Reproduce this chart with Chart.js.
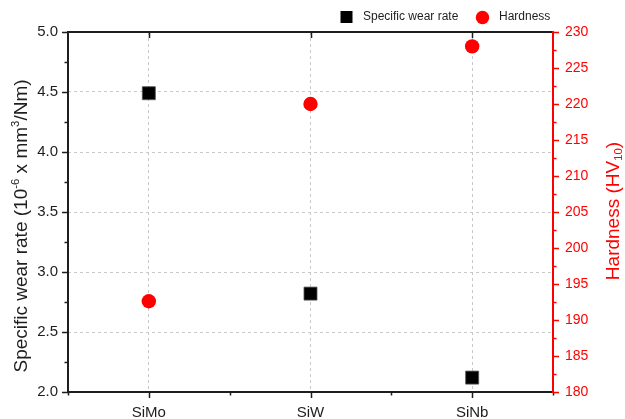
<!DOCTYPE html>
<html><head><meta charset="utf-8">
<script src="https://cdn.jsdelivr.net/npm/chart.js@4/dist/chart.umd.min.js"></script>
<style>html,body{margin:0;padding:0;background:#fff}</style>
</head><body>
<canvas id="c" width="625" height="419"></canvas>
<script>
// ---- data ----
const categories = ['SiMo', 'SiW', 'SiNb'];
const wearRate = [4.49, 2.82, 2.12];       // 10^-6 mm^3/Nm
const hardness = [192.6, 220.0, 228.0];    // HV10
const wearAxis = [2.0, 5.0, 0.5];          // min, max, step
const hardAxis = [180, 230, 5];
const seriesNames = ['Specific wear rate', 'Hardness'];

const FONT = '"Liberation Sans", Arial, sans-serif';
const RED = '#ff0000';
const INK = '#1e1e1e';

function drawRich(ctx, parts, size, color, cx, cy) {
  ctx.save();
  ctx.fillStyle = color;
  ctx.textBaseline = 'alphabetic';
  ctx.textAlign = 'left';
  let total = 0;
  parts.forEach(p => { ctx.font = (size * p.s) + 'px ' + FONT; p.w = ctx.measureText(p.t).width; total += p.w; });
  ctx.translate(cx, cy);
  ctx.rotate(-Math.PI / 2);
  let x = -total / 2;
  parts.forEach(p => { ctx.font = (size * p.s) + 'px ' + FONT; ctx.fillText(p.t, x, p.dy * size); x += p.w; });
  ctx.restore();
}

const decor = {
  id: 'decor',
  afterDraw(chart) {
    const ctx = chart.ctx, a = chart.chartArea;
    const sx = chart.scales.x, sy = chart.scales.y, sr = chart.scales.y1;
    ctx.save();
    ctx.lineCap = 'butt';
    // frame
    ctx.lineWidth = 2;
    ctx.strokeStyle = INK;
    ctx.beginPath();
    ctx.moveTo(a.left, a.bottom); ctx.lineTo(a.left, a.top - 1); 
    ctx.moveTo(a.left - 1, a.top); ctx.lineTo(a.right, a.top);
    ctx.moveTo(a.left - 1, a.bottom); ctx.lineTo(a.right, a.bottom);
    ctx.stroke();
    // left ticks
    ctx.lineWidth = 1.5;
    ctx.beginPath();
    for (let v = wearAxis[0]; v <= wearAxis[1] + 1e-9; v += wearAxis[2] / 2) {
      const y = Math.round(sy.getPixelForValue(v)) + 0.5;
      const major = Math.abs((v - wearAxis[0]) / wearAxis[2] - Math.round((v - wearAxis[0]) / wearAxis[2])) < 1e-6;
      ctx.moveTo(a.left, y); ctx.lineTo(a.left - (major ? 6 : 3.5), y);
    }
    // bottom & top ticks
    categories.forEach((c, i) => {
      const x = Math.round(sx.getPixelForValue(i)) + 0.5;
      ctx.moveTo(x, a.bottom); ctx.lineTo(x, a.bottom + 6);
      ctx.moveTo(x, a.top); ctx.lineTo(x, a.top + 6);
    });
    for (let i = 0; i <= categories.length; i++) {
      const x = Math.round(sx.getPixelForValue(i - 0.5)) + 0.5;
      ctx.moveTo(x, a.bottom); ctx.lineTo(x, a.bottom + 3.5);
    }
    ctx.stroke();
    // right red axis
    ctx.strokeStyle = RED;
    ctx.lineWidth = 2;
    ctx.beginPath();
    ctx.moveTo(a.right, a.top - 1); ctx.lineTo(a.right, a.bottom + 1);
    ctx.stroke();
    ctx.lineWidth = 1.5;
    ctx.beginPath();
    for (let v = hardAxis[0]; v <= hardAxis[1] + 1e-9; v += hardAxis[2] / 2) {
      const y = Math.round(sr.getPixelForValue(v)) + 0.5;
      const major = Math.abs((v - hardAxis[0]) / hardAxis[2] - Math.round((v - hardAxis[0]) / hardAxis[2])) < 1e-6;
      ctx.moveTo(a.right, y); ctx.lineTo(a.right + (major ? 6 : 3.5), y);
    }
    ctx.stroke();
    ctx.restore();

    // axis titles
    drawRich(ctx, [
      {t: 'Specific wear rate (10', s: 1, dy: 0},
      {t: '-6', s: 0.6, dy: -0.42},
      {t: ' x mm', s: 1, dy: 0},
      {t: '3', s: 0.6, dy: -0.42},
      {t: '/Nm)', s: 1, dy: 0}
    ], 19, INK, 26.5, 226);
    drawRich(ctx, [
      {t: 'Hardness (HV', s: 1, dy: 0},
      {t: '10', s: 0.6, dy: 0.2},
      {t: ')', s: 1, dy: 0}
    ], 19, RED, 618.5, 211);

    // legend
    ctx.save();
    ctx.fillStyle = '#000';
    ctx.fillRect(340.5, 11, 12, 12);
    ctx.fillStyle = RED;
    ctx.beginPath(); ctx.arc(482.5, 17.5, 6.7, 0, Math.PI * 2); ctx.fill();
    ctx.fillStyle = INK;
    ctx.font = '12px ' + FONT;
    ctx.textBaseline = 'middle';
    ctx.textAlign = 'left';
    ctx.fillText(seriesNames[0], 363, 17);
    ctx.fillText(seriesNames[1], 499, 17);
    ctx.restore();
  }
};

new Chart(document.getElementById('c'), {
  type: 'line',
  data: {
    labels: categories,
    datasets: [
      {label: seriesNames[0], data: wearRate, yAxisID: 'y', showLine: false,
       pointStyle: 'rect', pointRadius: 9.2, pointHoverRadius: 9.2,
       backgroundColor: '#000', borderColor: '#555', borderWidth: 0.8},
      {label: seriesNames[1], data: hardness, yAxisID: 'y1', showLine: false,
       pointStyle: 'circle', pointRadius: 7.2, pointHoverRadius: 7.2,
       backgroundColor: RED, borderColor: RED, borderWidth: 0}
    ]
  },
  options: {
    responsive: false,
    animation: false,
    events: [],
    layout: {padding: {top: 32, left: 0, right: 0, bottom: 0}},
    plugins: {legend: {display: false}, title: {display: false}, tooltip: {enabled: false}},
    scales: {
      x: {
        type: 'category', offset: true,
        grid: {display: true, color: '#c8c8c8', drawTicks: false, offset: false},
        border: {display: false, dash: [3, 3]},
        ticks: {color: INK, font: {family: FONT, size: 15}, padding: 12, maxRotation: 0},
        afterFit(s) { s.height = 27; }
      },
      y: {
        position: 'left', min: wearAxis[0], max: wearAxis[1],
        grid: {color: '#c8c8c8', drawTicks: false},
        border: {display: false, dash: [3, 3]},
        ticks: {stepSize: wearAxis[2], color: INK, font: {family: FONT, size: 15}, padding: 10,
                callback: v => Number(v).toFixed(1)},
        afterFit(s) { s.width = 68; }
      },
      y1: {
        position: 'right', min: hardAxis[0], max: hardAxis[1],
        grid: {drawOnChartArea: false, drawTicks: false},
        border: {display: false},
        ticks: {stepSize: hardAxis[2], color: RED, font: {family: FONT, size: 14}, padding: 12,
                callback: v => String(Math.round(v))},
        afterFit(s) { s.width = 72; }
      }
    }
  },
  plugins: [decor]
});
</script>
</body></html>
